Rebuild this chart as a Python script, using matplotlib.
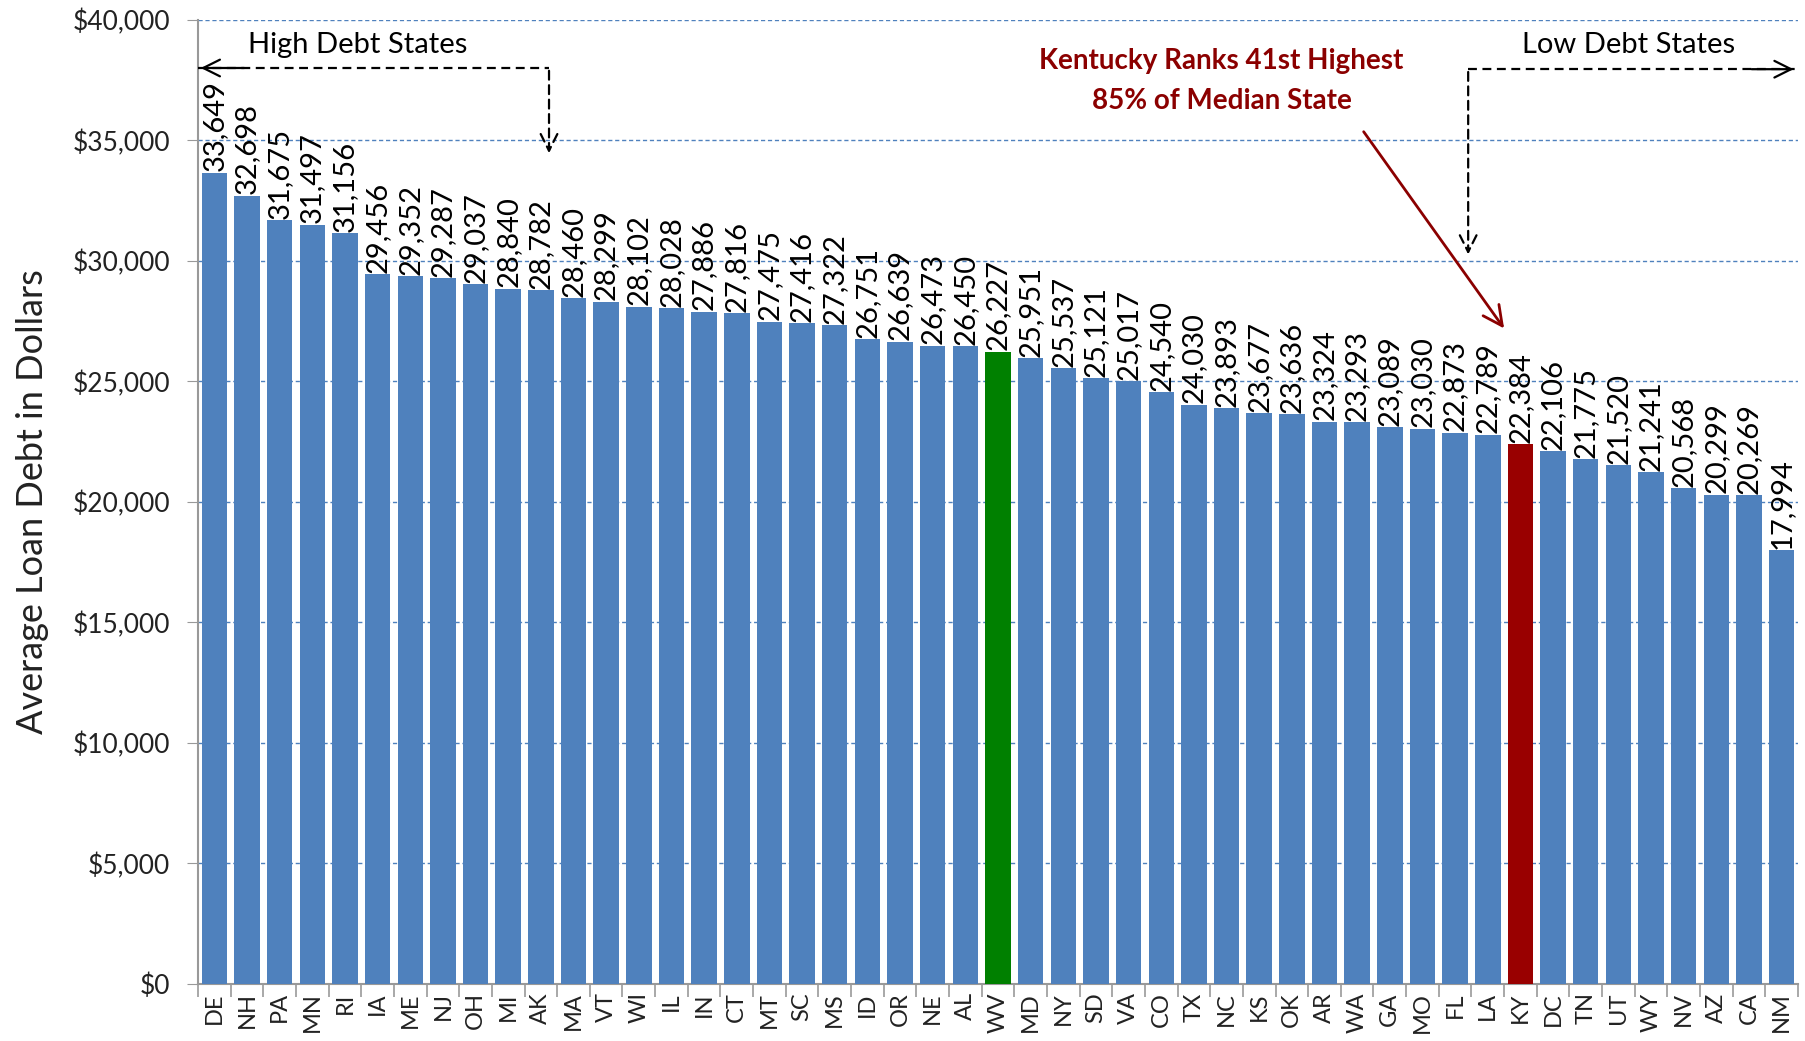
import matplotlib
matplotlib.use("Agg")
import matplotlib.pyplot as plt
from matplotlib.ticker import FuncFormatter, FixedLocator

plt.rcParams['font.family'] = ['Lato', 'DejaVu Sans']

states = ['DE', 'NH', 'PA', 'MN', 'RI', 'IA', 'ME', 'NJ', 'OH', 'MI', 'AK', 'MA', 'VT',
          'WI', 'IL', 'IN', 'CT', 'MT', 'SC', 'MS', 'ID', 'OR', 'NE', 'AL', 'WV', 'MD',
          'NY', 'SD', 'VA', 'CO', 'TX', 'NC', 'KS', 'OK', 'AR', 'WA', 'GA', 'MO', 'FL',
          'LA', 'KY', 'DC', 'TN', 'UT', 'WY', 'NV', 'AZ', 'CA', 'NM']
debt = [33649, 32698, 31675, 31497, 31156, 29456, 29352, 29287, 29037, 28840, 28782,
        28460, 28299, 28102, 28028, 27886, 27816, 27475, 27416, 27322, 26751, 26639,
        26473, 26450, 26227, 25951, 25537, 25121, 25017, 24540, 24030, 23893, 23677,
        23636, 23324, 23293, 23089, 23030, 22873, 22789, 22384, 22106, 21775, 21520,
        21241, 20568, 20299, 20269, 17994]

blue = '#4F81BD'
median_state = 'WV'
home_state = 'KY'
colors = []
for s in states:
    if s == median_state:
        colors.append('#008000')
    elif s == home_state:
        colors.append('#990000')
    else:
        colors.append(blue)

fig = plt.figure(figsize=(18.05, 10.41), dpi=100)
ax = fig.add_axes([0.1097, 0.0548, 0.8864, 0.9262])

x = list(range(len(states)))
ax.bar(x, debt, width=0.78, color=colors, zorder=3)

# value labels above each bar
for xi, v in zip(x, debt):
    ax.annotate(f'{v:,}', (xi, v), xytext=(0, 1), textcoords='offset points',
                rotation=90, ha='center', va='bottom', fontsize=21,
                color='black', zorder=4)

ax.set_xlim(-0.5, len(states) - 0.5)
ax.set_ylim(0, 40000)
ax.set_yticks(range(0, 40001, 5000))
ax.yaxis.set_major_formatter(FuncFormatter(lambda v, p: f'${v:,.0f}'))
ax.tick_params(axis='y', labelsize=19, length=8, color='#999999', direction='out', pad=12,
               labelcolor='#222222')
ax.yaxis.grid(True, color=blue, linestyle=(0, (3, 2)), linewidth=1, zorder=0)

ax.set_xticks(x)
ax.set_xticklabels(states, rotation=90, fontsize=17)
ax.tick_params(axis='x', length=0, pad=6, labelcolor='#222222')
ax.xaxis.set_minor_locator(FixedLocator([i - 0.5 for i in range(len(states) + 1)]))
ax.tick_params(axis='x', which='minor', length=9, color='#999999', width=1.2)

for side in ['top', 'right']:
    ax.spines[side].set_visible(False)
for side in ['left', 'bottom']:
    ax.spines[side].set_color('#999999')
    ax.spines[side].set_linewidth(1.5)

ax.set_ylabel('Average Loan Debt in Dollars', fontsize=26, color='#222222')
ax.yaxis.set_label_coords(-0.093, 0.5)

# high / low debt brackets
dash = dict(arrowstyle='->', color='black', linestyle=(0, (4, 2.5)), linewidth=1.6,
            mutation_scale=30)
ax.plot([-0.5, 10.25], [38000, 38000], color='black', linestyle=(0, (4, 2.5)), lw=1.6, zorder=5, clip_on=False)
ax.annotate('', xy=(-0.5, 38000), xytext=(1.0, 38000),
            arrowprops=dict(arrowstyle='->', color='black', lw=1.6, mutation_scale=30))
ax.annotate('', xy=(10.25, 34350), xytext=(10.25, 38000), arrowprops=dash)
ax.text(4.4, 38950, 'High Debt States', fontsize=21, ha='center', va='center')

ax.plot([38.4, 48.45], [37950, 37950], color='black', linestyle=(0, (4, 2.5)), lw=1.6, zorder=5, clip_on=False)
ax.annotate('', xy=(48.45, 37950), xytext=(47.0, 37950),
            arrowprops=dict(arrowstyle='->', color='black', lw=1.6, mutation_scale=30))
ax.annotate('', xy=(38.4, 30150), xytext=(38.4, 37950), arrowprops=dash)
ax.text(43.3, 38950, 'Low Debt States', fontsize=21, ha='center', va='center')

# Kentucky callout
red = '#8B0000'
ax.text(30.85, 38300, 'Kentucky Ranks 41st Highest', fontsize=20, fontweight='bold',
        color=red, ha='center', va='center')
ax.text(30.85, 36650, '85% of Median State', fontsize=20, fontweight='bold',
        color=red, ha='center', va='center')
ax.annotate('', xy=(39.55, 27100), xytext=(35.15, 35450),
            arrowprops=dict(arrowstyle='->', color=red, lw=2, mutation_scale=35),
            zorder=6)

fig.savefig('out.png', dpi=100)
